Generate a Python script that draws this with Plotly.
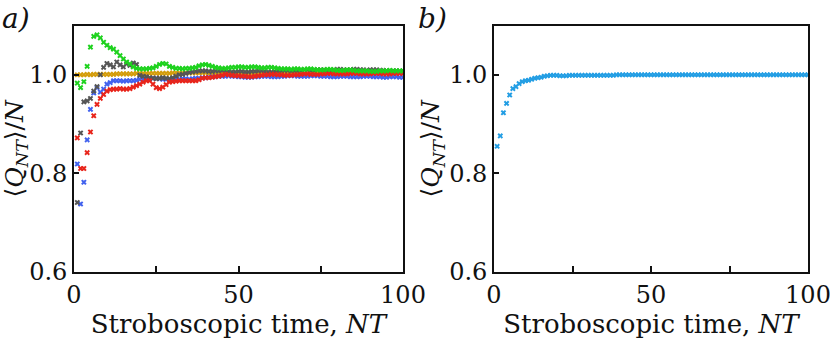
import plotly.graph_objects as go
from plotly.subplots import make_subplots

# ── Data ──────────────────────────────────────────────────────────────────
N = list(range(1, 101))

green = [
    0.983, 0.974, 0.986, 1.017, 1.056, 1.078, 1.081, 1.075, 1.066, 1.060,
    1.055, 1.052, 1.046, 1.039, 1.032, 1.026, 1.022, 1.016, 1.013, 1.012,
    1.012, 1.012, 1.013, 1.014, 1.017, 1.021, 1.023, 1.022, 1.017, 1.015,
    1.013, 1.013, 1.012, 1.013, 1.013, 1.014, 1.015, 1.018, 1.020, 1.021,
    1.019, 1.017, 1.015, 1.014, 1.013, 1.013, 1.014, 1.015, 1.015, 1.016,
    1.016, 1.015, 1.015, 1.016, 1.016, 1.015, 1.014, 1.014, 1.015, 1.015,
    1.014, 1.013, 1.012, 1.012, 1.012, 1.011, 1.012, 1.012, 1.011, 1.011,
    1.012, 1.012, 1.011, 1.010, 1.010, 1.010, 1.011, 1.011, 1.010, 1.009,
    1.009, 1.009, 1.010, 1.010, 1.009, 1.008, 1.008, 1.008, 1.008, 1.007,
    1.007, 1.007, 1.008, 1.008, 1.008, 1.009, 1.008, 1.008, 1.008, 1.008,
]

gray = [
    0.741, 0.882, 0.945, 0.947, 0.952, 0.967, 0.976, 1.000, 1.015, 1.023,
    1.020, 1.016, 1.026, 1.020, 1.016, 1.022, 1.019, 1.024, 1.021, 0.999,
    0.997, 0.996, 0.994, 0.993, 0.992, 0.993, 0.994, 0.993, 0.992, 0.994,
    0.997, 1.000, 1.001, 1.003, 1.005, 1.006, 1.007, 1.008, 1.008, 1.008,
    1.007, 1.007, 1.008, 1.008, 1.009, 1.008, 1.007, 1.006, 1.006, 1.007,
    1.007, 1.006, 1.006, 1.007, 1.007, 1.008, 1.008, 1.007, 1.006, 1.006,
    1.007, 1.008, 1.008, 1.009, 1.009, 1.008, 1.008, 1.008, 1.009, 1.010,
    1.010, 1.009, 1.009, 1.010, 1.010, 1.010, 1.009, 1.009, 1.010, 1.011,
    1.011, 1.010, 1.010, 1.010, 1.011, 1.011, 1.010, 1.010, 1.009, 1.010,
    1.010, 1.010, 1.009, 1.009, 1.008, 1.008, 1.008, 1.008, 1.007, 1.007,
]

blue = [
    0.819, 0.738, 0.782, 0.868, 0.930, 0.963, 0.974, 0.965, 0.971, 0.981,
    0.984, 0.988, 0.988, 0.988, 0.987, 0.988, 0.988, 0.988, 0.989, 0.991,
    0.991, 0.991, 0.993, 0.993, 0.993, 0.992, 0.991, 0.991, 0.990, 0.991,
    0.991, 0.991, 0.992, 0.992, 0.991, 0.992, 0.993, 0.993, 0.994, 0.994,
    0.995, 0.996, 0.996, 0.997, 0.997, 0.997, 0.998, 0.997, 0.997, 0.996,
    0.996, 0.995, 0.995, 0.995, 0.996, 0.996, 0.997, 0.997, 0.997, 0.996,
    0.996, 0.996, 0.997, 0.997, 0.998, 0.998, 0.998, 0.997, 0.997, 0.997,
    0.997, 0.998, 0.998, 0.998, 0.997, 0.997, 0.997, 0.996, 0.996, 0.996,
    0.997, 0.997, 0.997, 0.996, 0.996, 0.996, 0.996, 0.997, 0.997, 0.997,
    0.996, 0.996, 0.996, 0.995, 0.995, 0.996, 0.996, 0.996, 0.995, 0.995,
]

red = [
    0.872, 0.810, 0.810, 0.842, 0.884, 0.917, 0.940, 0.952, 0.960, 0.967,
    0.970, 0.971, 0.971, 0.972, 0.971, 0.971, 0.972, 0.975, 0.978, 0.981,
    0.985, 0.988, 0.988, 0.981, 0.974, 0.972, 0.975, 0.980, 0.985, 0.986,
    0.987, 0.988, 0.988, 0.988, 0.988, 0.988, 0.988, 0.990, 0.993, 0.994,
    0.994, 0.995, 0.996, 0.997, 0.999, 1.001, 1.000, 0.999, 0.998, 0.998,
    0.997, 0.997, 0.996, 0.996, 0.997, 0.998, 0.999, 1.000, 1.000, 1.001,
    1.001, 1.000, 1.000, 0.999, 0.999, 0.999, 1.000, 1.000, 1.001, 1.002,
    1.002, 1.001, 1.001, 1.001, 1.002, 1.002, 1.003, 1.003, 1.002, 1.002,
    1.002, 1.002, 1.002, 1.003, 1.003, 1.003, 1.002, 1.002, 1.002, 1.002,
    1.003, 1.003, 1.003, 1.002, 1.002, 1.002, 1.003, 1.003, 1.003, 1.003,
]

gold = [
    1.000, 1.000, 1.000, 1.001, 1.000, 1.001, 1.001, 1.001, 1.001, 1.001,
    1.001, 1.001, 1.002, 1.002, 1.002, 1.002, 1.002, 1.002, 1.003, 1.003,
    1.003, 1.003, 1.003, 1.003, 1.003, 1.003, 1.003, 1.003, 1.003, 1.004,
    1.004, 1.004, 1.004, 1.004, 1.004, 1.004, 1.004, 1.004, 1.004, 1.004,
    1.003, 1.003, 1.003, 1.003, 1.003, 1.003, 1.003, 1.003, 1.003, 1.003,
    1.003, 1.003, 1.003, 1.003, 1.003, 1.003, 1.003, 1.003, 1.003, 1.003,
    1.003, 1.003, 1.003, 1.003, 1.003, 1.003, 1.003, 1.003, 1.003, 1.003,
    1.004, 1.004, 1.004, 1.004, 1.004, 1.004, 1.004, 1.004, 1.004, 1.004,
    1.004, 1.004, 1.004, 1.004, 1.004, 1.004, 1.004, 1.004, 1.004, 1.004,
    1.004, 1.004, 1.004, 1.004, 1.004, 1.004, 1.004, 1.004, 1.004, 1.004,
]

single = [
    0.855, 0.876, 0.923, 0.942, 0.959, 0.972, 0.976, 0.982, 0.986, 0.988,
    0.989, 0.991, 0.993, 0.994, 0.995, 0.997, 0.998, 0.999, 0.999, 0.999,
    0.998, 0.998, 0.998, 0.999, 0.999, 0.999, 0.999, 0.999, 0.999, 0.999,
    0.999, 0.999, 0.999, 0.999, 0.999, 0.999, 0.999, 0.999, 1.000, 1.000,
    1.000, 1.000, 1.000, 1.000, 1.000, 1.000, 1.000, 1.000, 1.000, 1.000,
    1.000, 1.000, 1.000, 1.000, 1.000, 1.000, 1.000, 1.000, 1.000, 1.000,
    1.000, 1.000, 1.000, 1.000, 1.000, 1.000, 1.000, 1.000, 1.000, 1.000,
    1.000, 1.000, 1.000, 1.000, 1.000, 1.000, 1.000, 1.000, 1.000, 1.000,
    1.000, 1.000, 1.000, 1.000, 1.000, 1.000, 1.000, 1.000, 1.000, 1.000,
    1.000, 1.000, 1.000, 1.000, 1.000, 1.000, 1.000, 1.000, 1.000, 1.000,
]

x_ticks = [0, 25, 50, 75, 100]
x_ticktext = ["0", "", "50", "", "100"]
y_ticks = [0.6, 0.8, 1.0]
y_ticktext = ["0.6", "0.8", "1.0"]

# ── Styles ────────────────────────────────────────────────────────────────
FONT = "DejaVu Serif"
BLACK = "#111111"
series_a = [
    (gold, "#d49d0c"),
    (blue, "#4262ee"),
    (gray, "#555555"),
    (red, "#e8251b"),
    (green, "#1ed21e"),
]
LIGHT_BLUE = "#239ee4"

fig = make_subplots(rows=1, cols=2)

for vals, col in series_a:
    fig.add_trace(go.Scatter(
        x=N, y=vals, mode="markers",
        marker=dict(symbol="x", size=5, color=col, line=dict(width=0)),
        showlegend=False,
    ), row=1, col=1)

fig.add_trace(go.Scatter(
    x=N, y=single, mode="markers",
    marker=dict(symbol="x", size=5, color=LIGHT_BLUE, line=dict(width=0)),
    showlegend=False,
), row=1, col=2)

axis_x = dict(
    range=[0, 100], tickvals=x_ticks, ticktext=x_ticktext,
    ticks="inside", ticklen=6, tickwidth=1.5, tickcolor=BLACK,
    showline=True, linecolor=BLACK, linewidth=1.8, mirror=True,
    showgrid=False, zeroline=False, automargin=False,
    ticklabeloverflow="allow",
    tickfont=dict(family=FONT, size=24, color=BLACK),
    title=dict(text="Stroboscopic time, <i>NT</i>", standoff=4,
               font=dict(family=FONT, size=26, color=BLACK)),
)
axis_y = dict(
    range=[0.6, 1.1], tickvals=y_ticks, ticktext=y_ticktext,
    ticks="inside", ticklen=5, tickwidth=1.5, tickcolor=BLACK,
    showline=True, linecolor=BLACK, linewidth=1.8, mirror=True,
    showgrid=False, zeroline=False, automargin=False,
    tickfont=dict(family=FONT, size=24, color=BLACK),
    title=dict(text="⟨<i>Q</i><sub><i>NT</i></sub>⟩/<i>N</i>", standoff=2,
               font=dict(family=FONT, size=25, color=BLACK)),
)

fig.update_layout(
    width=830, height=348,
    paper_bgcolor="white", plot_bgcolor="white",
    margin=dict(l=0, r=0, t=0, b=0),
    xaxis=dict(axis_x, domain=[74 / 830, 403 / 830]),
    xaxis2=dict(axis_x, domain=[494 / 830, 808 / 830]),
    yaxis=dict(axis_y, domain=[1 - 272 / 348, 1 - 25.5 / 348]),
    yaxis2=dict(axis_y, domain=[1 - 272 / 348, 1 - 25.5 / 348]),
)

for label, xp in [("a)", 0), ("b)", 416)]:
    fig.add_annotation(
        text=f"<i>{label}</i>", xref="paper", yref="paper",
        x=xp / 830, y=1.0, xanchor="left", yanchor="top",
        showarrow=False, font=dict(family=FONT, size=28, color=BLACK),
    )

# page body has a default 8px margin; drop it so the figure sits at 0,0
fig.write_html("out.html", config={"displayModeBar": False},
               post_script="document.body.style.margin='0';")
